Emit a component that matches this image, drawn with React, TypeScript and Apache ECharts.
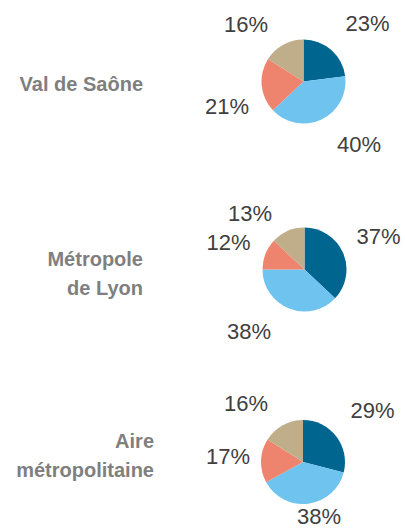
import React, { useEffect, useRef } from "react";
import * as echarts from "echarts";

// Data
const regions = ["Val de Saône", "Métropole\nde Lyon", "Aire\nmétropolitaine"];
const sliceNames = ["A", "B", "C", "D"];
const valDeSaone = [23, 40, 21, 16];
const metropoleDeLyon = [37, 38, 12, 13];
const aireMetropolitaine = [29, 38, 17, 16];
const seriesValues = [valDeSaone, metropoleDeLyon, aireMetropolitaine];

// Layout / style
const W = 405;
const H = 531;
const colors = ["#00668F", "#6EC3EF", "#EE846E", "#BFAE89"];
const pieCenters: [number, number][] = [
  [303.5, 81.5],
  [304.5, 269.5],
  [303, 462],
];
const pieRadius = 42;
// label offsets from pie centre (Excel best-fit placement)
const labelOffsets: [number, number][][] = [
  [[64, -58], [55.5, 63], [-76.5, 25], [-57.5, -57.5]],
  [[74, -33.5], [-55.5, 61.5], [-76, -27], [-54.5, -56]],
  [[69.5, -52], [16, 54.5], [-75, -6], [-57, -58.5]],
];
const regionLabelPos: [number, number][] = [
  [143, 84],
  [143, 273],
  [154, 455],
];

export default function App() {
  const ref = useRef<HTMLDivElement>(null);
  useEffect(() => {
    if (!ref.current) return;
    const chart = echarts.init(ref.current, null, { renderer: "svg" });
    chart.setOption({
      animation: false,
      color: colors,
      graphic: regions.map((r, i) => ({
        type: "text",
        x: regionLabelPos[i][0],
        y: regionLabelPos[i][1],
        style: {
          text: r,
          align: "right",
          verticalAlign: "middle",
          fontFamily: "Liberation Sans, Arial, sans-serif",
          fontWeight: "bold",
          fontSize: 20,
          lineHeight: 29,
          fill: "#7F7F7F",
        },
      })),
      series: seriesValues.map((vals, si) => ({
        type: "pie",
        name: regions[si],
        center: pieCenters[si],
        radius: pieRadius,
        startAngle: 90,
        clockwise: true,
        silent: true,
        itemStyle: { borderWidth: 0 },
        label: {
          show: true,
          position: "inside",
          overflow: "none",
          formatter: (p: any) => `${p.value}%`,
          fontFamily: "Liberation Sans, Arial, sans-serif",
          fontSize: 22,
          lineHeight: 20,
          color: "#404040",
        },
        labelLine: { show: false },
        labelLayout: (p: any) => {
          const off = labelOffsets[si][p.dataIndex];
          return {
            x: pieCenters[si][0] + off[0],
            y: pieCenters[si][1] + off[1],
            align: "center",
            verticalAlign: "middle",
          };
        },
        data: vals.map((v, i) => ({ name: sliceNames[i], value: v })),
      })),
    });
    return () => chart.dispose();
  }, []);
  return (
    <div
      ref={ref}
      style={{ position: "fixed", left: 0, top: 0, width: W, height: H, background: "#fff" }}
    />
  );
}
